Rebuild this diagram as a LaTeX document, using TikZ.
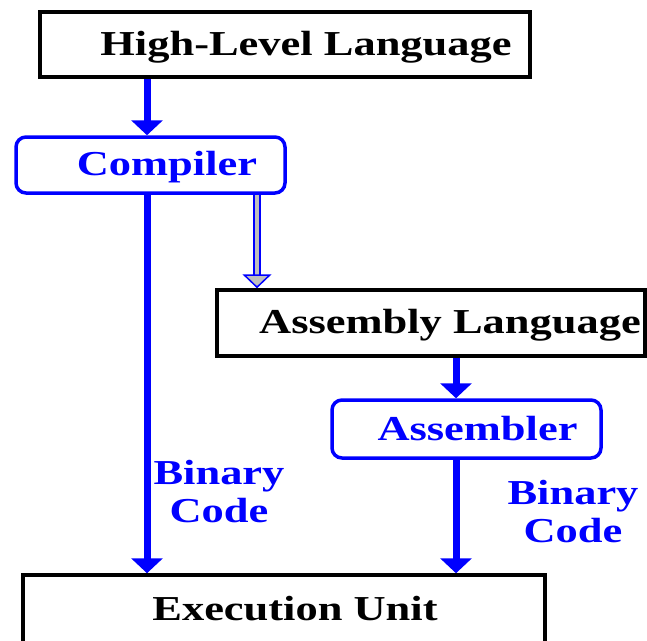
\documentclass[tikz,border=0pt]{standalone}
\usepackage{fontspec}
\setmainfont{Liberation Serif}
\usetikzlibrary{arrows.meta}
\tikzset{
  every picture/.style={x=1pt, y=-1pt},
}
\newcommand{\wide}[1]{\scalebox{1.27}[1]{#1}}
\tikzstyle{block} = [rectangle, draw=black, line width=3.5pt, inner sep=0pt]
\tikzstyle{tool} = [rectangle, rounded corners=10pt, draw=blue, line width=3.5pt, inner sep=0pt]
\tikzstyle{txt} = [anchor=base, inner sep=0pt, align=center, font=\fontsize{35}{38}\selectfont\bfseries]
\tikzstyle{arrow} = [draw=blue, line width=7pt, -{Triangle[width=31pt, length=15pt]}]
\tikzstyle{dblarrow} = [draw=blue, line width=1.5pt, double=gray!50, double distance=4.5pt, -{Triangle[open, width=29pt, length=14pt, fill=gray!50]}]

\begin{document}
\begin{tikzpicture}
        \useasboundingbox (0,0) rectangle (647,640);
        \clip (0,0) rectangle (647,640);

        % blocks
        \node [block, minimum width=490pt, minimum height=65pt] (hll) at (285,44.5) {};
        \node [tool, minimum width=269pt, minimum height=56pt] (comp) at (150.5,165) {};
        \node [block, minimum width=428pt, minimum height=66pt] (asm) at (431,323) {};
        \node [tool, minimum width=269pt, minimum height=58pt] (assr) at (466.5,429) {};
        \node [block, minimum width=522pt, minimum height=125pt] (exec) at (284,637.5) {};

        % texts (baseline of the last line)
        \node [txt] (hlltxt) at (306,55) {\wide{High-Level Language}};
        \node [txt, blue] (comptxt) at (167,175) {\wide{Compiler}};
        \node [txt] (asmtxt) at (450,333) {\wide{Assembly Language}};
        \node [txt, blue] (assrtxt) at (477.5,440) {\wide{Assembler}};
        \node [txt, blue] (bincl) at (219,522) {\wide{Binary}\\\wide{Code}};
        \node [txt, blue] (bincr) at (573,542) {\wide{Binary}\\\wide{Code}};
        \node [txt] (exectxt) at (295,620) {\wide{Execution Unit}};

        % arrows
        \coordinate (xl) at (147,0);
        \coordinate (xm) at (257,0);
        \coordinate (xr) at (456,0);
        \draw [arrow] (hll.south -| xl) -- (comp.north -| xl);
        \draw [arrow] (comp.south -| xl) -- (exec.north -| xl);
        \draw [dblarrow] (comp.south -| xm) -- (asm.north -| xm);
        \draw [arrow] (asm.south -| xr) -- (assr.north -| xr);
        \draw [arrow] (assr.south -| xr) -- (exec.north -| xr);
\end{tikzpicture}
\end{document}
